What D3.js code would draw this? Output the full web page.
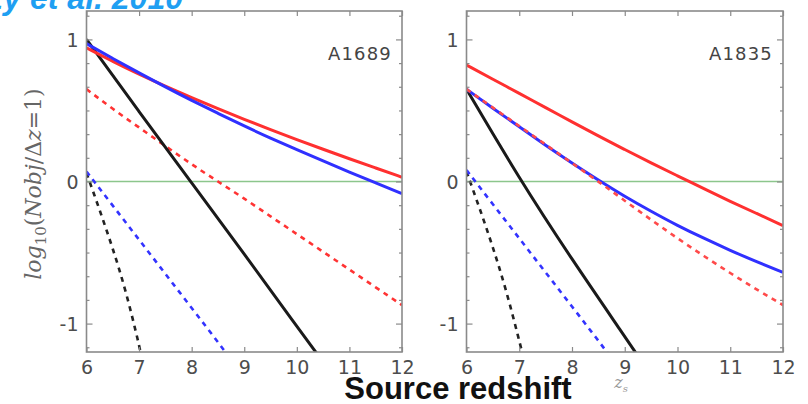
<!DOCTYPE html>
<html><head><meta charset="utf-8">
<script src="https://cdn.jsdelivr.net/npm/d3@7"></script>
<style>body{margin:0;background:#fff;}svg{display:block;}</style>
</head><body>
<svg id="c" width="808" height="404"></svg>
<script>
// ---------- DATA ----------
const zGrid = [6, 6.5, 7, 7.5, 8, 8.5, 9, 9.5, 10, 10.5, 11, 11.5, 12];
const xTicks = [6, 7, 8, 9, 10, 11, 12];
const yTicks = [-1, 0, 1];
const yTickLabels = ["-1", "0", "1"];
const panelNames = ["A1689", "A1835"];

// A1689 (left panel)
const a1689RedSolid  = [0.94, 0.845, 0.755, 0.67, 0.59, 0.512, 0.437, 0.365, 0.295, 0.227, 0.16, 0.095, 0.03];
const a1689BlueSolid = [0.97, 0.865, 0.765, 0.665, 0.57, 0.48, 0.39, 0.305, 0.225, 0.145, 0.065, -0.01, -0.085];
const a1689RedDash   = [0.65, 0.51, 0.38, 0.25, 0.12, 0.00, -0.12, -0.245, -0.37, -0.495, -0.62, -0.745, -0.87];
const a1689BlackZ     = [6, 7, 8, 9, 10, 10.4];
const a1689BlackSolid = [1.00, 0.49, -0.01, -0.51, -1.02, -1.22];
const a1689BlueDashZ  = [6, 6.5, 7, 7.5, 8, 8.5, 8.7];
const a1689BlueDash   = [0.07, -0.17, -0.41, -0.65, -0.89, -1.13, -1.23];
const a1689BlackDashZ = [6, 6.25, 6.5, 6.75, 7.0, 7.05];
const a1689BlackDash  = [0.06, -0.20, -0.47, -0.77, -1.15, -1.24];

// A1835 (right panel)
const a1835RedSolid  = [0.82, 0.72, 0.62, 0.52, 0.42, 0.32, 0.225, 0.13, 0.04, -0.05, -0.14, -0.225, -0.31];
const a1835BlueSolid = [0.65, 0.515, 0.385, 0.255, 0.13, 0.01, -0.105, -0.21, -0.31, -0.40, -0.485, -0.565, -0.64];
const a1835RedDash   = [0.65, 0.52, 0.39, 0.26, 0.13, 0.00, -0.135, -0.27, -0.40, -0.525, -0.645, -0.76, -0.87];
const a1835BlackZ     = [6, 7, 8, 9, 9.4];
const a1835BlackSolid = [0.65, 0.02, -0.55, -1.09, -1.31];
const a1835BlueDashZ  = [6, 6.5, 7, 7.5, 8, 8.5, 8.7];
const a1835BlueDash   = [0.08, -0.16, -0.40, -0.64, -0.88, -1.12, -1.22];
const a1835BlackDashZ = [6, 6.25, 6.5, 6.75, 7.0, 7.1];
const a1835BlackDash  = [0.07, -0.19, -0.46, -0.76, -1.12, -1.27];

// ---------- DRAW ----------
const svg = d3.select("#c");
const yTop = 11, yBottom = 352;
const panels = [
  {name: panelNames[0], x0: 86.5, x1: 402,
   series: [
     {z: a1689BlackDashZ, v: a1689BlackDash, c: "#222", dash: true},
     {z: a1689BlueDashZ, v: a1689BlueDash, c: "#3333ff", dash: true},
     {z: zGrid, v: a1689RedDash, c: "#ff3333", dash: true},
     {z: a1689BlackZ, v: a1689BlackSolid, c: "#1a1a1a", dash: false},
     {z: zGrid, v: a1689RedSolid, c: "#ff3030", dash: false},
     {z: zGrid, v: a1689BlueSolid, c: "#3030ff", dash: false}
   ]},
  {name: panelNames[1], x0: 466.5, x1: 783,
   series: [
     {z: a1835BlackDashZ, v: a1835BlackDash, c: "#222", dash: true},
     {z: a1835BlueDashZ, v: a1835BlueDash, c: "#3333ff", dash: true},
     {z: a1835BlackZ, v: a1835BlackSolid, c: "#1a1a1a", dash: false},
     {z: zGrid, v: a1835RedSolid, c: "#ff3030", dash: false},
     {z: zGrid, v: a1835BlueSolid, c: "#3030ff", dash: false},
     {z: zGrid, v: a1835RedDash, c: "#ff4a4a", dash: true}
   ]}
];

const y = d3.scaleLinear().domain([-1.2, 1.2]).range([yBottom, yTop]);
const minorY = d3.range(-7, 8).filter(k => k % 6 !== 0).map(k => k / 6);

panels.forEach((p, i) => {
  const x = d3.scaleLinear().domain([6, 12]).range([p.x0, p.x1]);
  const g = svg.append("g");
  const clipId = "clip" + i;
  svg.append("clipPath").attr("id", clipId).append("rect")
    .attr("x", p.x0).attr("y", yTop).attr("width", p.x1 - p.x0).attr("height", yBottom - yTop);

  // zero line
  g.append("line").attr("x1", p.x0).attr("x2", p.x1).attr("y1", y(0)).attr("y2", y(0))
    .attr("stroke", "#8cc68c").attr("stroke-width", 1.3);

  const line = d3.line().x(d => x(d[0])).y(d => y(d[1])).curve(d3.curveBasis);
  const lg = g.append("g").attr("clip-path", `url(#${clipId})`);
  p.series.forEach(s => {
    const pts = s.z.map((z, k) => [z, s.v[k]]);
    lg.append("path").attr("d", line(pts)).attr("fill", "none")
      .attr("stroke", s.c).attr("stroke-width", s.dash ? 2.6 : 3)
      .attr("stroke-dasharray", s.dash ? "5,5" : null)
      .attr("stroke-linecap", "butt");
  });

  // frame
  g.append("rect").attr("x", p.x0).attr("y", yTop).attr("width", p.x1 - p.x0).attr("height", yBottom - yTop)
    .attr("fill", "none").attr("stroke", "#8a8a8a").attr("stroke-width", 1.6);

  // axes (inward ticks)
  const axB = d3.axisBottom(x).tickValues(xTicks).tickSize(-5).tickFormat(d => d).tickPadding(9);
  const gb = g.append("g").attr("transform", `translate(0,${yBottom})`).call(axB);
  const axT = d3.axisTop(x).tickValues(xTicks).tickSize(-5).tickFormat("");
  const gt = g.append("g").attr("transform", `translate(0,${yTop})`).call(axT);
  const axL = d3.axisLeft(y).tickValues(yTicks).tickSize(-6).tickFormat((d, k) => yTickLabels[k]).tickPadding(8);
  const gl = g.append("g").attr("transform", `translate(${p.x0},0)`).call(axL);
  const axR = d3.axisRight(y).tickValues(yTicks).tickSize(-6).tickFormat("");
  const gr = g.append("g").attr("transform", `translate(${p.x1},0)`).call(axR);
  const axLm = d3.axisLeft(y).tickValues(minorY).tickSize(-3).tickFormat("");
  const glm = g.append("g").attr("transform", `translate(${p.x0},0)`).call(axLm);
  const axRm = d3.axisRight(y).tickValues(minorY).tickSize(-3).tickFormat("");
  const grm = g.append("g").attr("transform", `translate(${p.x1},0)`).call(axRm);
  [gb, gt, gl, gr, glm, grm].forEach(a => {
    a.select(".domain").remove();
    a.selectAll("line").attr("stroke", "#8a8a8a").attr("stroke-width", 1.2);
    a.selectAll("text").attr("fill", "#4d4d4d").attr("font-size", 19)
      .attr("font-family", "DejaVu Sans");
  });
  gl.selectAll("text").attr("dy", "0.36em");

  // panel name
  g.append("text").attr("x", p.x1 - 10).attr("y", 60).attr("text-anchor", "end")
    .attr("font-family", "DejaVu Sans").attr("font-size", 18).attr("fill", "#444")
    .attr("letter-spacing", 1.2).text(p.name);
});

// y-axis label (mathtext-like)
const yl = svg.append("text").attr("transform", "translate(41,184) rotate(-90)")
  .attr("text-anchor", "middle").attr("font-family", "DejaVu Serif").attr("font-size", 22)
  .attr("fill", "#666");
yl.append("tspan").attr("font-style", "italic").text("log");
yl.append("tspan").attr("font-size", 15).attr("dy", 5).text("10");
yl.append("tspan").attr("dy", -5).text("(");
yl.append("tspan").attr("font-style", "italic").text("Nobj");
yl.append("tspan").text("/Δ");
yl.append("tspan").attr("font-style", "italic").text("z");
yl.append("tspan").text("=1)");

// right panel x label
const zs = svg.append("text").attr("x", 621).attr("y", 388).attr("text-anchor", "middle")
  .attr("font-family", "DejaVu Serif").attr("font-size", 16).attr("fill", "#999").attr("font-style", "italic");
zs.append("tspan").text("z");
zs.append("tspan").attr("font-size", 10).attr("dy", 4).text("s");

// overall x title
svg.append("text").attr("x", 458).attr("y", 399).attr("text-anchor", "middle")
  .attr("font-family", "Liberation Sans").attr("font-weight", "bold").attr("font-size", 31)
  .attr("fill", "#111").text("Source redshift");

// cropped citation at top-left
svg.append("text").attr("x", 183).attr("y", 8.5).attr("text-anchor", "end")
  .attr("font-family", "Liberation Sans").attr("font-weight", "bold").attr("font-style", "italic")
  .attr("font-size", 32).attr("fill", "#1f9ff2").text("Maizy et al. 2010");
</script>
</body></html>
